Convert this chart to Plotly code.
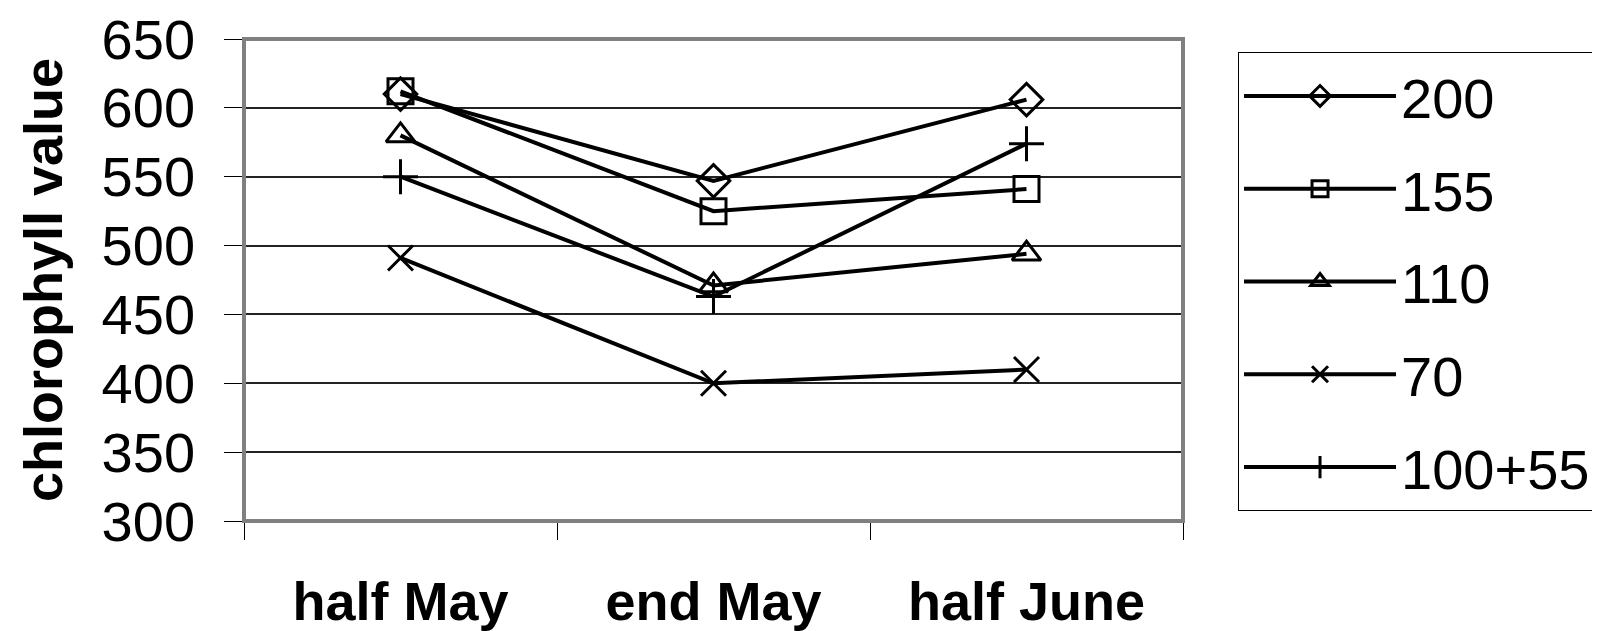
import plotly.graph_objects as go

categories = ["half May", "end May", "half June"]
series_names = ["200", "155", "110", "70", "100+55"]
v200 = [610, 547, 606]
v155 = [612, 525, 541]
v110 = [580, 471, 494]
v70 = [491, 400, 410]
v100_55 = [550, 463, 574]
y_ticks = [300, 350, 400, 450, 500, 550, 600, 650]

series_values = [v200, v155, v110, v70, v100_55]
symbols = ["diamond-open", "square-open", "triangle-up-open", "x-thin-open", "cross-thin-open"]

fig = go.Figure()
for name, vals, sym in zip(series_names, series_values, symbols):
    fig.add_trace(go.Scatter(
        x=categories, y=vals, name=name, mode="lines+markers",
        legendgroup=name,
        line=dict(color="black", width=4),
        marker=dict(symbol=sym, size=25, color="black",
                    line=dict(color="black", width=3)),
    ))

F = "Liberation Sans, Arial, sans-serif"
fig.update_layout(
    width=1620, height=640,
    margin=dict(l=236, r=445, t=31, b=127, autoexpand=False),
    paper_bgcolor="white", plot_bgcolor="white",
    font=dict(family=F, color="black", size=56),
    showlegend=True,
    legend=dict(
        x=1.0586, y=0.973, xanchor="left", yanchor="top",
        bordercolor="black", borderwidth=1, bgcolor="white",
        font=dict(size=56, family=F, color="black"),
        traceorder="grouped", tracegroupgap=17,
        itemwidth=152,
    ),
    xaxis=dict(
        type="category", tickson="boundaries", ticks="outside",
        ticklen=18, tickcolor="black", tickwidth=1,
        showgrid=False, showline=False, zeroline=False,
        tickfont=dict(family=F, size=54, color="black", weight="bold"),
        ticklabelstandoff=44, automargin=False,
        range=[-0.5, 2.5],
    ),
    yaxis=dict(
        range=[300, 650], tickvals=y_ticks, ticks="outside",
        ticklen=18, tickcolor="black", tickwidth=1,
        showgrid=True, gridcolor="#222222", gridwidth=1.5,
        showline=True, linecolor="black", linewidth=1.5,
        zeroline=False, automargin=False,
        tickfont=dict(size=56, family=F, color="black"),
        ticklabelstandoff=18,
        ticklabeloverflow="allow",
        title=dict(text="chlorophyll value", standoff=22,
                   font=dict(size=54, family=F, color="black", weight="bold")),
    ),
    shapes=[dict(type="rect", xref="x domain", yref="y domain",
                 x0=0, x1=1, y0=0, y1=1,
                 line=dict(color="#808080", width=4), layer="above")],
)

fig.write_html("out.html")
